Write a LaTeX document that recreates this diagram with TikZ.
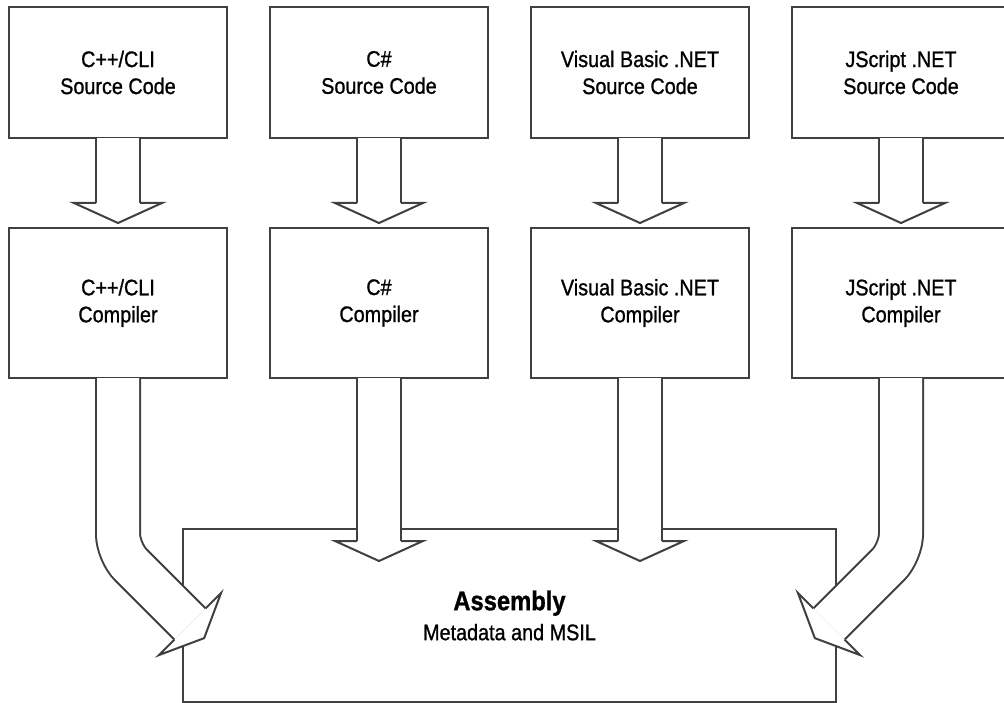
\documentclass[tikz,border=0pt]{standalone}
\usepackage{fontspec}
\setmainfont{Liberation Sans}[FakeStretch=0.88,FakeBold=1]
\usetikzlibrary{calc}
\definecolor{edgegray}{RGB}{64,64,64}
\tikzset{
	srcbox/.style={draw=edgegray, line width=2pt, fill=white, inner sep=0pt, minimum width=218pt, minimum height=131pt, align=center, font=\fontsize{22.5}{27}\selectfont},
	compbox/.style={srcbox, minimum height=150pt},
	asmbox/.style={draw=edgegray, line width=2pt, fill=white, inner sep=0pt, minimum width=653pt, minimum height=173pt, align=center, font=\fontsize{22.5}{30}\selectfont},
	shaft/.style={draw=edgegray, line width=2pt, double=white, double distance=42pt, rounded corners=18pt},
	headline/.style={draw=edgegray, line width=2pt, fill=white, line join=miter}
}
\def\blockhead[#1](#2){\draw[headline,shift={(#2)},#1] (-22,0) -- (-44,0) -- (0,20) -- (44,0) -- (22,0);}

\begin{document}
\begin{tikzpicture}[x=1pt,y=-1pt]
	\useasboundingbox (0,0) rectangle (1004,703);
	\clip (0,0) rectangle (1004,703);

	\node[asmbox] (asm) at (509.5,615.5) {{\fontsize{27}{30}\selectfont\bfseries Assembly}\\Metadata and MSIL};

	\node[srcbox] (cppsrc) at (118,72.5) {C++/CLI\\Source Code};
	\node[srcbox] (cssrc) at (379,72.5) {C\#\\Source Code};
	\node[srcbox] (vbsrc) at (640,72.5) {Visual Basic .NET\\Source Code};
	\node[srcbox] (jssrc) at (901,72.5) {JScript .NET\\Source Code};

	\node[compbox] (cppcomp) at (118,303) {C++/CLI\\Compiler};
	\node[compbox] (cscomp) at (379,303) {C\#\\Compiler};
	\node[compbox] (vbcomp) at (640,303) {Visual Basic .NET\\Compiler};
	\node[compbox] (jscomp) at (901,303) {JScript .NET\\Compiler};

	\draw[shaft] ([yshift=1pt]cppsrc.south) -- ($(cppcomp.north)+(0,-24)$) coordinate (cpphead);
	\draw[shaft] ([yshift=1pt]cssrc.south) -- ($(cscomp.north)+(0,-24)$) coordinate (cshead);
	\draw[shaft] ([yshift=1pt]vbsrc.south) -- ($(vbcomp.north)+(0,-24)$) coordinate (vbhead);
	\draw[shaft] ([yshift=1pt]jssrc.south) -- ($(jscomp.north)+(0,-24)$) coordinate (jshead);
	\blockhead[](cpphead)
	\blockhead[](cshead)
	\blockhead[](vbhead)
	\blockhead[](jshead)

	\draw[shaft] ([yshift=1pt]cscomp.south) -- ($(cscomp.south |- asm.north)+(0,13)$) coordinate (csasm);
	\draw[shaft] ([yshift=1pt]vbcomp.south) -- ($(vbcomp.south |- asm.north)+(0,13)$) coordinate (vbasm);
	\blockhead[](csasm)
	\blockhead[](vbasm)

	\draw[shaft] ([yshift=1pt]cppcomp.south) -- ++(0,174) -- ++(72,72) coordinate (cppasm);
	\draw[shaft] ([yshift=1pt]jscomp.south) -- ++(0,174) -- ++(-72,72) coordinate (jsasm);
	\blockhead[rotate=45](cppasm)
	\blockhead[rotate=-45](jsasm)
\end{tikzpicture}
\end{document}
